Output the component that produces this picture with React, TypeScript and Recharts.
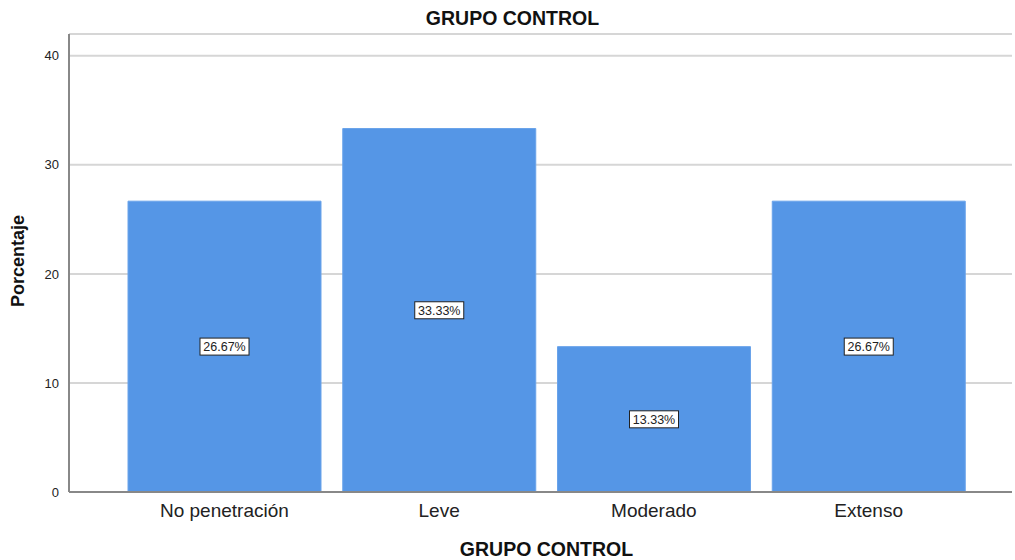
import React from 'react';
import { BarChart, Bar, XAxis, YAxis, CartesianGrid, LabelList, Label } from 'recharts';

const categories = ['No penetración', 'Leve', 'Moderado', 'Extenso'];
const porcentajes = [26.67, 33.33, 13.33, 26.67];
const yTicks = [0, 10, 20, 30, 40];

const data = categories.map((c, i) => ({ categoria: c, porcentaje: porcentajes[i] }));

const FONT = '"Liberation Sans", Arial, sans-serif';

// white boxed percentage label in the middle of each bar
const BoxLabel = (props: any) => {
  const { x, y, width, height, value } = props;
  const cx = x + width / 2;
  const cy = y + height / 2;
  const txt = `${Number(value).toFixed(2)}%`;
  const w = 49;
  const h = 17;
  return (
    <g>
      <rect x={cx - w / 2} y={cy - h / 2} width={w} height={h} fill="#fff" stroke="#222" strokeWidth={1} />
      <text x={cx} y={cy + 4.5} textAnchor="middle" fontSize={12.5} fill="#222" fontFamily={FONT}>
        {txt}
      </text>
    </g>
  );
};

export default function App() {
  return (
    <div style={{ position: 'absolute', left: 0, top: 0, width: 1015, height: 560, background: '#fff', fontFamily: FONT }}>
      <div
        style={{
          position: 'absolute',
          top: 7,
          left: 0,
          width: 1025,
          textAlign: 'center',
          fontWeight: 'bold',
          fontSize: 19.5,
          color: '#111',
        }}
      >
        GRUPO CONTROL
      </div>
      <BarChart
        width={1015}
        height={560}
        data={data}
        margin={{ top: 34, right: 3, left: 0, bottom: 0 }}
        barCategoryGap={11}
      >
        <CartesianGrid vertical={false} stroke="#d6d6d6" strokeWidth={2} />
        <XAxis
          dataKey="categoria"
          height={68}
          padding={{ left: 48, right: 36 }}
          tickLine={false}
          axisLine={{ stroke: '#888', strokeWidth: 2 }}
          tick={{ fontSize: 19, fill: '#222', fontFamily: FONT }}
          tickMargin={6}
          interval={0}
        >
          <Label
            value="GRUPO CONTROL"
            position="insideBottom"
            offset={4}
            style={{ fontSize: 19.5, fontWeight: 'bold', fill: '#111', fontFamily: FONT }}
            dx={6}
          />
        </XAxis>
        <YAxis
          width={69}
          domain={[0, 42]}
          ticks={yTicks}
          tickLine={false}
          axisLine={{ stroke: '#888', strokeWidth: 2 }}
          tick={{ fontSize: 13, fill: '#222', fontFamily: FONT }}
          tickMargin={4}
          allowDataOverflow
        >
          <Label
            value="Porcentaje"
            angle={-90}
            position="insideLeft"
            offset={18}
            dy={-2}
            style={{ fontSize: 18, fontWeight: 'bold', fill: '#111', fontFamily: FONT, textAnchor: 'middle' }}
          />
        </YAxis>
        <Bar dataKey="porcentaje" fill="#5596e6" stroke="#6aa3ea" strokeWidth={1} isAnimationActive={false}>
          <LabelList dataKey="porcentaje" content={BoxLabel} />
        </Bar>
      </BarChart>
    </div>
  );
}
